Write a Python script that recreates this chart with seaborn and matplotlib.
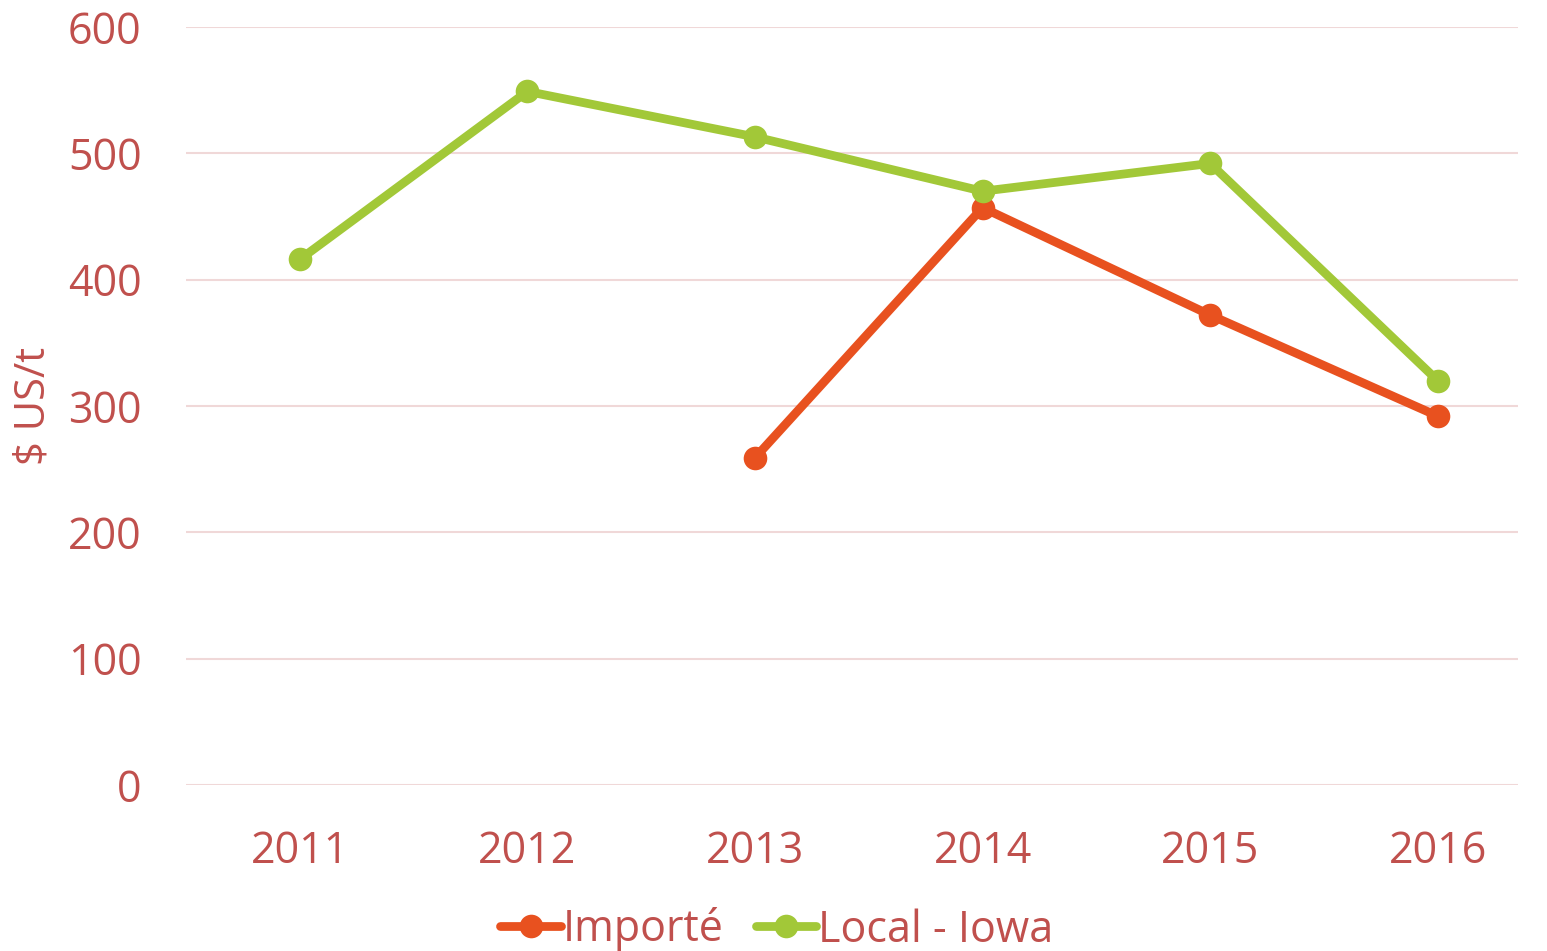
import pandas as pd
import numpy as np
import matplotlib
matplotlib.use("Agg")
import matplotlib.pyplot as plt
import seaborn as sns
from matplotlib.lines import Line2D

# data
years = [2011, 2012, 2013, 2014, 2015, 2016]
importe = [np.nan, np.nan, 259, 457, 372, 292]
local_iowa = [416, 549, 513, 470, 492, 320]
series_names = ["Importé", "Local - Iowa"]

TEXT = "#C0504D"
RED = "#E8511F"
GREEN = "#A2C838"
GRID = "#F0D8D8"

df = pd.DataFrame({
    "year": years * 2,
    "value": importe + local_iowa,
    "series": [series_names[0]] * len(years) + [series_names[1]] * len(years),
})

sns.set_style("white")
plt.rcParams["font.family"] = ["Open Sans", "DejaVu Sans"]

fig = plt.figure(figsize=(15.47, 9.51), dpi=100)
ax = fig.add_axes([186 / 1547, 1 - 785 / 951, (1518 - 186) / 1547, (785 - 27) / 951])

sns.lineplot(
    data=df, x="year", y="value", hue="series", hue_order=series_names,
    palette=[RED, GREEN], marker="o", markersize=17, markeredgewidth=0,
    linewidth=6.3, ax=ax, legend=False,
)

ax.set_ylim(0, 600)
ax.set_xlim(2010.5, 2010.5 + (1518 - 186) / 227.6)
ax.set_yticks(range(0, 601, 100))
ax.set_xticks(years)
ax.set_xticklabels([str(y) for y in years])
ax.yaxis.grid(True, color=GRID, linewidth=1.5)
ax.set_axisbelow(True)
for s in ax.spines.values():
    s.set_visible(False)
ax.tick_params(axis="both", length=0, labelsize=31, labelcolor=TEXT)
ax.tick_params(axis="y", pad=32)
ax.tick_params(axis="x", pad=32)
ax.set_xlabel("")
ax.set_ylabel("$ US/t", fontsize=30, color=TEXT)
ax.yaxis.set_label_coords(-131 / 1332, 0.5)

handles = [
    Line2D([], [], color=RED, linewidth=6.3, marker="o", markersize=17, markeredgewidth=0),
    Line2D([], [], color=GREEN, linewidth=6.3, marker="o", markersize=17, markeredgewidth=0),
]
leg = fig.legend(handles, series_names, loc="center", bbox_to_anchor=(777 / 1547, 1 - 930 / 951),
                 ncol=2, frameon=False, fontsize=31, handlelength=1.4, handletextpad=0.05,
                 columnspacing=0.75, borderpad=0)
for t in leg.get_texts():
    t.set_color(TEXT)

fig.savefig("out.png", dpi=100)
